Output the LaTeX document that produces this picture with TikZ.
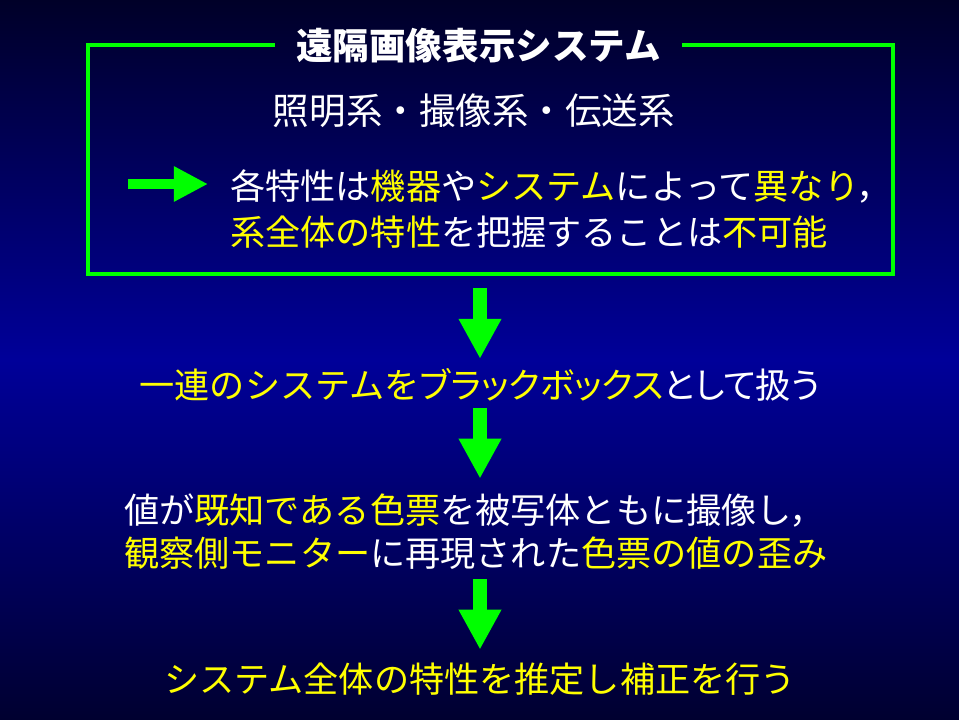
\documentclass[tikz,border=0pt]{standalone}
\usepackage{fontspec}
\setmainfont{Noto Sans CJK JP}
\usetikzlibrary{arrows.meta}

\definecolor{slidetop}{RGB}{0,0,40}
\definecolor{slidemid}{RGB}{0,0,153}
\definecolor{slidebot}{RGB}{0,0,48}
\definecolor{hilite}{RGB}{255,255,0}
\definecolor{boxgreen}{RGB}{0,255,0}
\newcommand{\hl}[1]{\textcolor{hilite}{#1}}
\newcommand{\narrow}[1]{{\addfontfeature{CharacterWidth=AlternateProportional}#1}}

\tikzstyle{line} = [text=white, inner sep=0pt, text height=0.77cm, text depth=0.105cm, font=\fontsize{25pt}{30pt}\selectfont]
\tikzstyle{bigline} = [line, font=\fontsize{26pt}{31pt}\selectfont]
\tikzstyle{heading} = [line, font=\fontsize{26pt}{31pt}\selectfont\bfseries, inner xsep=0.525cm]
\tikzstyle{frameline} = [draw=boxgreen, line width=0.1cm]
\tikzstyle{bigarrow} = [draw=boxgreen, line width=0.35cm, -{Triangle[width=1cm,length=1cm]}, boxgreen]
\tikzstyle{sidearrow} = [draw=boxgreen, line width=0.25cm, -{Triangle[width=0.825cm,length=0.85cm]}, boxgreen]

\begin{document}
\begin{tikzpicture}[x=0.025cm, y=-0.025cm]
\useasboundingbox (0,0) rectangle (959,719);
\shade [top color=slidetop, bottom color=slidebot, middle color=slidemid] (0,0) rectangle (959,719);

\coordinate (frameNW) at (88,45);
\coordinate (frameNE) at (893,45);
\coordinate (frameSE) at (893,274);
\coordinate (frameSW) at (88,274);
\coordinate (frameS) at (480,274);
\coordinate (pointer) at (128,184);

\node (title) [heading] at (478.5,46.5) {遠隔画像表示システム};
\node (parts) [bigline] at (474,111) {照明系・撮像系・伝送系};
\node (featA) [line, anchor=west] at (230,186) {各特性は\hl{機器}や\hl{システム}によって\hl{異なり}\narrow{，}};
\node (featB) [line, anchor=west] at (230,232) {\hl{系全体の特性}を把握することは\hl{不可能}};
\node (blackbox) [line] at (480,385) {\hl{一連のシステムを\narrow{ブラックボックス}}\narrow{として}扱\narrow{う}};
\node (chartA) [line, anchor=west] at (124,510) {値が\hl{既知である色票}を被写体ともに撮像し\narrow{，}};
\node (chartB) [line, anchor=west] at (124,553) {\hl{観察側モニター}に再現された\hl{色票の値の歪み}};
\node (result) [line, text=hilite] at (480,679) {システム全体の特性を推定し補正を行う};

\draw [frameline] (title.east |- frameNE) -- (frameNE) -- (frameSE) -- (frameSW) -- (frameNW) -- (title.west |- frameNW);
\draw [sidearrow, shorten >=0.55cm] (pointer) -- (pointer -| featA.west);

\draw [bigarrow, shorten <=0.35cm, shorten >=0.21cm] (frameS) -- (frameS |- blackbox.north);
\draw [bigarrow, shorten <=0.14cm, shorten >=0.34cm] (blackbox.south) -- (blackbox.south |- chartA.north);
\draw [bigarrow, shorten <=0.21cm, shorten >=0.29cm] (result.north |- chartB.south) -- (result.north);
\end{tikzpicture}
\end{document}
